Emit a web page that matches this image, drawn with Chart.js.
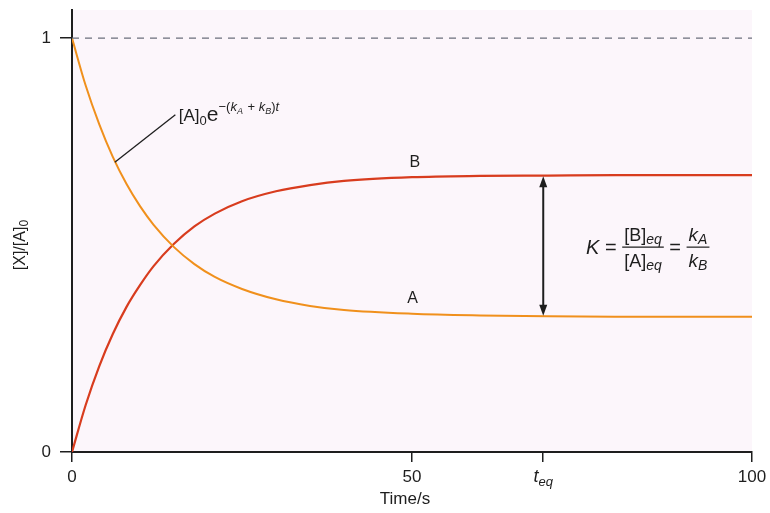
<!DOCTYPE html>
<html>
<head>
<meta charset="utf-8">
<script src="https://cdn.jsdelivr.net/npm/chart.js@4.4.0/dist/chart.umd.min.js"></script>
<style>
  body { margin: 0; background: #fff; }
</style>
</head>
<body>
<canvas id="myChart" width="770" height="513"></canvas>
<script>
// values
const times = [0, 2, 4, 6, 8, 10, 12, 15, 18, 21, 25, 30, 35, 40, 50, 60, 70, 80, 90, 100];
const concA = [1.000, 0.886, 0.792, 0.713, 0.648, 0.594, 0.549, 0.495, 0.454, 0.423, 0.394, 0.369, 0.353, 0.343, 0.334, 0.330, 0.328, 0.327, 0.327, 0.327];
const concB = [0.000, 0.113, 0.207, 0.285, 0.350, 0.403, 0.449, 0.503, 0.545, 0.576, 0.606, 0.630, 0.645, 0.655, 0.664, 0.667, 0.668, 0.669, 0.669, 0.669];
const xTicks = [0, 50, 69.3, 100];
const yTicks = [0, 1];
const tEq = 69.3;
const eqA = 0.327;
const eqB = 0.669;

const FONT = '"Liberation Sans", Arial, Helvetica, sans-serif';

function setFont(ctx, size, italic) {
    ctx.font = (italic ? 'italic ' : '') + size + 'px ' + FONT;
}

// draws a list of text pieces side by side, each with its own size / offset
function runsWidth(ctx, runs) {
    let w = 0;
    runs.forEach(r => {
        setFont(ctx, r.size, r.italic);
        w += ctx.measureText(r.t).width + (r.gap || 0);
    });
    return w;
}

function drawRuns(ctx, x, y, runs) {
    runs.forEach(r => {
        setFont(ctx, r.size, r.italic);
        ctx.fillText(r.t, x, y + (r.dy || 0));
        x += ctx.measureText(r.t).width + (r.gap || 0);
    });
    return x;
}

function drawRunsCentered(ctx, cx, y, runs) {
    return drawRuns(ctx, cx - runsWidth(ctx, runs) / 2, y, runs);
}

const paperPlugin = {
    id: 'paper',
    beforeDraw(chart) {
        const { ctx, chartArea: a } = chart;
        ctx.save();
        ctx.fillStyle = '#fcf6fb';
        ctx.fillRect(a.left, a.top, a.right - a.left, a.bottom - a.top);
        ctx.restore();
    }
};

const notesPlugin = {
    id: 'notes',
    afterDraw(chart) {
        const ctx = chart.ctx;
        const xs = chart.scales.x;
        const ys = chart.scales.y;
        const px = v => xs.getPixelForValue(v);
        const py = v => ys.getPixelForValue(v);

        ctx.save();
        ctx.fillStyle = '#1e1e1e';
        ctx.strokeStyle = '#1e1e1e';
        ctx.textBaseline = 'alphabetic';

        // equilibrium double arrow
        const ax = px(tEq);
        const yTop = py(eqB) + 1;
        const yBot = py(eqA) - 1;
        ctx.lineWidth = 2;
        ctx.beginPath();
        ctx.moveTo(ax, yTop + 6);
        ctx.lineTo(ax, yBot - 6);
        ctx.stroke();
        ctx.beginPath();
        ctx.moveTo(ax, yTop);
        ctx.lineTo(ax - 4, yTop + 11);
        ctx.lineTo(ax + 4, yTop + 11);
        ctx.closePath();
        ctx.fill();
        ctx.beginPath();
        ctx.moveTo(ax, yBot);
        ctx.lineTo(ax - 4, yBot - 11);
        ctx.lineTo(ax + 4, yBot - 11);
        ctx.closePath();
        ctx.fill();

        // leader line to curve A
        ctx.lineWidth = 1.3;
        ctx.beginPath();
        ctx.moveTo(px(6.3), py(0.700));
        ctx.lineTo(px(15.2), py(0.815));
        ctx.stroke();

        // [A]0 e^-(kA + kB)t
        drawRuns(ctx, px(15.7), py(0.800), [
            { t: '[A]', size: 17 },
            { t: '0', size: 13, dy: 4 },
            { t: 'e', size: 21 },
            { t: '\u2212(', size: 13, dy: -10 },
            { t: 'k', size: 13, italic: true, dy: -10 },
            { t: 'A', size: 9, italic: true, dy: -7, gap: 1 },
            { t: ' + ', size: 13, dy: -10 },
            { t: 'k', size: 13, italic: true, dy: -10 },
            { t: 'B', size: 9, italic: true, dy: -7 },
            { t: ')', size: 13, dy: -10 },
            { t: 't', size: 13, italic: true, dy: -10 }
        ]);

        // curve labels
        ctx.textAlign = 'center';
        ctx.textBaseline = 'middle';
        setFont(ctx, 16, false);
        ctx.fillText('B', px(50.4), py(0.700));
        ctx.fillText('A', px(50.1), py(0.370));

        // K = [B]eq/[A]eq = kA/kB
        ctx.textAlign = 'left';
        ctx.textBaseline = 'alphabetic';
        const midY = py(0.495);
        let x = px(75.6);
        x = drawRuns(ctx, x, midY + 7, [{ t: 'K', size: 20, italic: true }, { t: ' = ', size: 20 }]);
        const num1 = [{ t: '[B]', size: 18 }, { t: 'eq', size: 14, italic: true, dy: 3 }];
        const den1 = [{ t: '[A]', size: 18 }, { t: 'eq', size: 14, italic: true, dy: 3 }];
        const w1 = Math.max(runsWidth(ctx, num1), runsWidth(ctx, den1)) + 4;
        drawRunsCentered(ctx, x + w1 / 2, midY - 6, num1);
        drawRunsCentered(ctx, x + w1 / 2, midY + 20, den1);
        ctx.lineWidth = 1.2;
        ctx.beginPath();
        ctx.moveTo(x, midY);
        ctx.lineTo(x + w1, midY);
        ctx.stroke();
        x += w1;
        x = drawRuns(ctx, x, midY + 7, [{ t: ' = ', size: 20 }]);
        const num2 = [{ t: 'k', size: 19, italic: true }, { t: 'A', size: 14, italic: true, dy: 3 }];
        const den2 = [{ t: 'k', size: 19, italic: true }, { t: 'B', size: 14, italic: true, dy: 3 }];
        const w2 = Math.max(runsWidth(ctx, num2), runsWidth(ctx, den2)) + 4;
        drawRunsCentered(ctx, x + w2 / 2, midY - 6, num2);
        drawRunsCentered(ctx, x + w2 / 2, midY + 20, den2);
        ctx.beginPath();
        ctx.moveTo(x, midY);
        ctx.lineTo(x + w2, midY);
        ctx.stroke();

        // t_eq tick label
        drawRunsCentered(ctx, px(tEq), 482, [
            { t: 't', size: 18, italic: true },
            { t: 'eq', size: 13, italic: true, dy: 4 }
        ]);

        // axis titles
        ctx.textAlign = 'center';
        setFont(ctx, 17, false);
        ctx.fillText('Time/s', (xs.left + xs.right) / 2 - 7, 504);

        ctx.save();
        ctx.translate(25, py(0.5));
        ctx.rotate(-Math.PI / 2);
        ctx.textAlign = 'left';
        const yt = [{ t: '[X]/[A]', size: 16 }, { t: '0', size: 12, dy: 3 }];
        drawRuns(ctx, -runsWidth(ctx, yt) / 2, 0, yt);
        ctx.restore();

        ctx.restore();
    }
};

document.addEventListener('DOMContentLoaded', function () {
    const ctx1 = document.getElementById('myChart');

    new Chart(ctx1, {
        type: 'line',
        data: {
            datasets: [{
                label: 'equilibrium',
                data: [{ x: 0, y: 1 }, { x: 100, y: 1 }],
                borderColor: '#6b6f7c',
                borderWidth: 1.3,
                borderDash: [7, 6],
                pointRadius: 0
            }, {
                label: 'A',
                data: times.map((t, i) => ({ x: t, y: concA[i] })),
                borderColor: '#f0901c',
                borderWidth: 2,
                pointRadius: 0,
                cubicInterpolationMode: 'monotone'
            }, {
                label: 'B',
                data: times.map((t, i) => ({ x: t, y: concB[i] })),
                borderColor: '#d83c1e',
                borderWidth: 2.2,
                pointRadius: 0,
                cubicInterpolationMode: 'monotone'
            }]
        },
        options: {
            responsive: false,
            animation: false,
            layout: {
                padding: { top: 10, right: 18, left: 0, bottom: 0 }
            },
            scales: {
                x: {
                    type: 'linear',
                    min: 0,
                    max: 100,
                    afterFit: s => { s.height = 61; s.paddingLeft = 0; s.paddingRight = 0; },
                    afterBuildTicks: s => { s.ticks = xTicks.map(v => ({ value: v })); },
                    grid: { drawOnChartArea: false, drawTicks: true, tickLength: 10, color: '#1e1e1e', lineWidth: 1.5 },
                    border: { display: true, color: '#1e1e1e', width: 2 },
                    ticks: {
                        autoSkip: false,
                        maxRotation: 0,
                        padding: 5,
                        color: '#1e1e1e',
                        font: { size: 17, family: FONT },
                        callback: v => (v === tEq ? '' : v)
                    }
                },
                y: {
                    min: 0,
                    max: 1.068,
                    afterFit: s => { s.width = 72; s.paddingTop = 0; s.paddingBottom = 0; },
                    afterBuildTicks: s => { s.ticks = yTicks.map(v => ({ value: v })); },
                    grid: { drawOnChartArea: false, drawTicks: true, tickLength: 12, color: '#1e1e1e', lineWidth: 1.5 },
                    border: { display: true, color: '#1e1e1e', width: 2 },
                    ticks: {
                        autoSkip: false,
                        padding: 9,
                        color: '#1e1e1e',
                        font: { size: 17, family: FONT }
                    }
                }
            },
            plugins: {
                legend: { display: false },
                tooltip: { enabled: false }
            }
        },
        plugins: [paperPlugin, notesPlugin]
    });
});
</script>
</body>
</html>
